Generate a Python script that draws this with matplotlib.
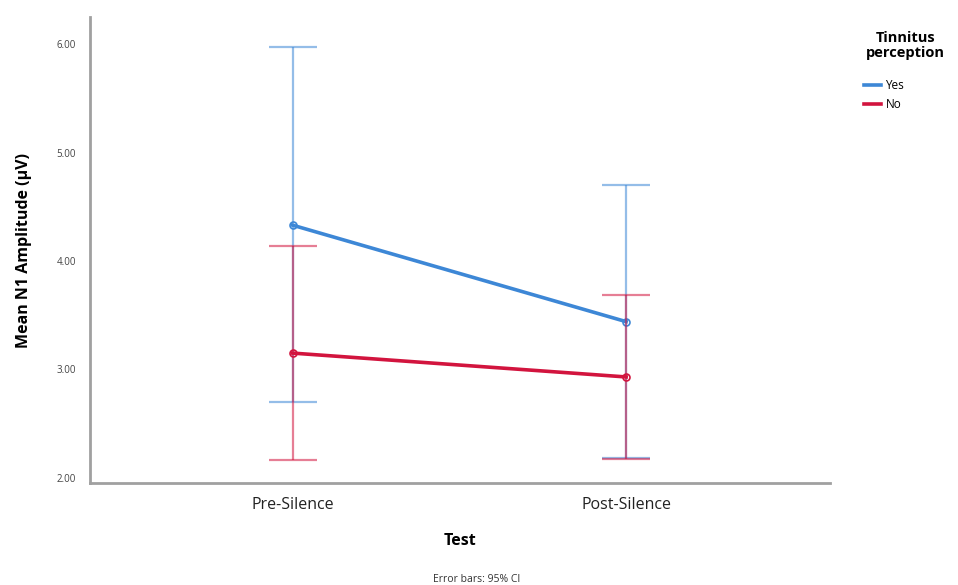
import matplotlib.pyplot as plt
from matplotlib.lines import Line2D
import numpy as np

tests = ['Pre-Silence', 'Post-Silence']
groups = ['Yes', 'No']
yes_mean = [4.33, 3.44]
yes_lo = [2.70, 2.18]
yes_hi = [5.97, 4.70]
no_mean = [3.15, 2.93]
no_lo = [2.16, 2.17]
no_hi = [4.14, 3.69]

colors = {'Yes': '#3d87d6', 'No': '#d2143e'}

plt.rcParams['font.family'] = ['Open Sans', 'DejaVu Sans']
fig = plt.figure(figsize=(9.58, 5.85), dpi=100)
ax = fig.add_axes([0.094, 0.174, 0.772, 0.797])

x = np.arange(len(tests))
series = [('Yes', yes_mean, yes_lo, yes_hi), ('No', no_mean, no_lo, no_hi)]
for name, m, lo, hi in series:
    m = np.array(m)
    err = [m - np.array(lo), np.array(hi) - m]
    ax.errorbar(x, m, yerr=err, fmt='none', ecolor=colors[name], alpha=0.55,
                elinewidth=1.6, capsize=17, capthick=1.6)
    ax.plot(x, m, '-', color=colors[name], lw=2.6, marker='o', ms=5,
            mfc='none', mew=1.2)

ax.set_xlim(-0.607, 1.61)
ax.set_ylim(1.95, 6.25)
ax.set_xticks(x)
ax.set_xticklabels(tests, fontsize=11.5, color='#222222')
ax.set_yticks([2, 3, 4, 5, 6])
ax.set_yticklabels(['%.2f' % v for v in [2, 3, 4, 5, 6]], fontsize=7, color='#444444')
ax.tick_params(length=0, axis='both')
ax.tick_params(axis='x', pad=10)
ax.tick_params(axis='y', pad=10)
for s in ['top', 'right']:
    ax.spines[s].set_visible(False)
for s in ['left', 'bottom']:
    ax.spines[s].set_color('#a0a0a0')
    ax.spines[s].set_linewidth(2)

ax.set_xlabel('Test', fontsize=11.5, fontweight='bold', labelpad=14)
ax.set_ylabel('Mean N1 Amplitude (μV)', fontsize=11.5, fontweight='bold', labelpad=18)

handles = [Line2D([], [], color=colors[g], lw=2.6) for g in groups]
ax.legend(handles, groups, loc='upper left', bbox_to_anchor=(1.046, 0.866),
          frameon=False, fontsize=8.5, handlelength=1.5, handletextpad=0.35,
          labelspacing=0.45, borderaxespad=0.0, borderpad=0.0)
fig.text(0.945, 0.947, 'Tinnitus\nperception', fontsize=10.5, fontweight='bold',
         ha='center', va='top', linespacing=1.05)

fig.text(0.498, 0.005, 'Error bars: 95% CI', fontsize=7.5, ha='center', color='#333333')

fig.savefig('out.png', dpi=100)
